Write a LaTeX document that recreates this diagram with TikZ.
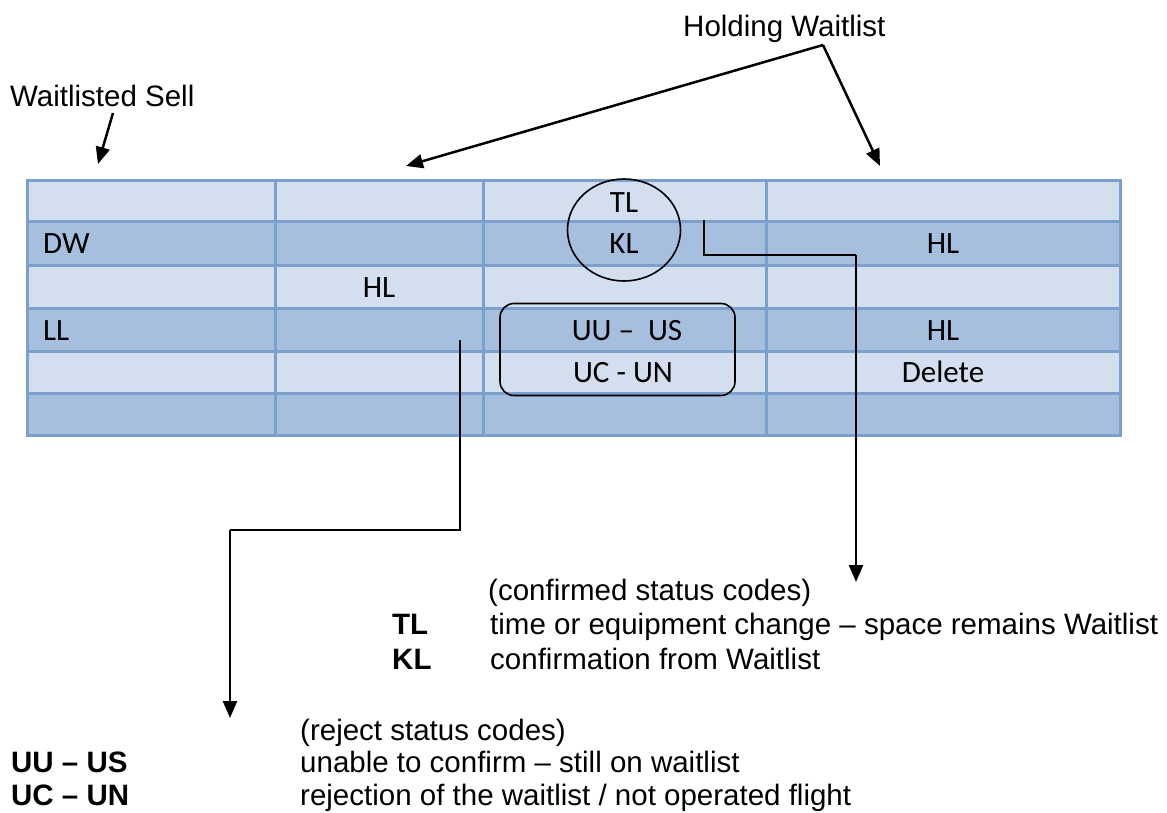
\documentclass[tikz,border=0pt]{standalone}
\usepackage{fontspec}
\setmainfont{Liberation Sans}
\newfontfamily\calfont[Ligatures=TeX]{Carlito}
\usetikzlibrary{arrows.meta,shapes.geometric}
\definecolor{lightrow}{RGB}{211,223,238}
\definecolor{darkrow}{RGB}{167,191,222}
\definecolor{gridline}{RGB}{123,160,205}
\tikzset{
  celltext/.style={font=\calfont\fontsize{31}{37}\selectfont, inner sep=0pt, anchor=base},
  celltextw/.style={celltext, anchor=base west},
  legend/.style={font=\fontsize{29.5}{35}\selectfont, inner sep=0pt, anchor=base west},
  legendb/.style={legend, font=\fontsize{29.5}{35}\selectfont\bfseries},
  conn/.style={draw=black, line width=2.5pt, -{Triangle[length=17pt,width=14pt]}},
  wire/.style={draw=black, line width=2.5pt},
  frame/.style={draw=black, line width=1.6pt, fill=none}
}
\begin{document}
\begin{tikzpicture}[x=1pt,y=-1pt]
\useasboundingbox (0,0) rectangle (1167,813);
% table rows
\foreach \t/\b/\c in {181/222/lightrow,222/265/darkrow,265/308/lightrow,308/351/darkrow,351/393/lightrow,393/435/darkrow}
  \fill[\c] (27,\t) rectangle (1120,\b);
% grid
\begin{scope}[draw=gridline, line width=3pt]
  \draw (27,181) rectangle (1120,435);
  \foreach \y in {222,265,308,351,393} \draw (27,\y) -- (1120,\y);
  \foreach \x in {275,483,766} \draw (\x,181) -- (\x,435);
\end{scope}
% cell texts
\node[celltextw] (dw) at (43,254) {DW};
\node[celltextw] (ll) at (43,340) {LL};
\node[celltext] (hl1) at (379,297) {HL};
\node[celltext] (tl) at (624,212) {TL};
\node[celltext] (kl) at (624,254) {KL};
\node[celltext] (uu) at (627,340) {UU –\ \ US};
\node[celltext] (uc) at (623,382.5) {UC - UN};
\node[celltext] (hl2) at (943,254) {HL};
\node[celltext] (hl3) at (943,340) {HL};
\node[celltext] (del) at (943,382.5) {Delete};
% circle and rounded box
\node[frame, ellipse, minimum width=113pt, minimum height=102pt, inner sep=0pt] (circ) at (624,230) {};
\node[frame, rectangle, rounded corners=14pt, minimum width=235pt, minimum height=92pt, inner sep=0pt] (box) at (617.5,349.5) {};
% top labels
\node[legend] (ws) at (10,107) {Waitlisted Sell};
\node[legend] (hw) at (683,37) {Holding Waitlist};
\coordinate (wsA) at (113,113);
\coordinate (wsB) at (98,164);
\coordinate (hwA) at (823,45);
\coordinate (hwL) at (406,166);
\coordinate (hwR) at (880,166);
\draw[conn] (wsA) -- (wsB);
\draw[conn] (hwA) -- (hwL);
\draw[conn] (hwA) -- (hwR);
% connectors
\coordinate (c1s) at (704,220);
\coordinate (c1k) at (856,255);
\coordinate (c1e) at (856,582);
\draw[wire] (c1s) |- (c1k);
\draw[conn] (c1k) -- (c1e);
\coordinate (c2s) at (460,340);
\coordinate (c2k) at (230,530);
\coordinate (c2e) at (230,718);
\draw[wire] (c2s) |- (c2k);
\draw[conn] (c2k) -- (c2e);
% legend: confirmed
\node[legend] (conf) at (488,600) {(confirmed status codes)};
\node[legendb] (tlk) at (392,634) {TL};
\node[legend] (tld) at (490,634) {time or equipment change – space remains Waitlist};
\node[legendb] (klk) at (392,669) {KL};
\node[legend] (kld) at (490,669) {confirmation from Waitlist};
% legend: reject
\node[legend] (rej) at (300,740) {(reject status codes)};
\node[legendb] (uuk) at (11,772) {UU – US};
\node[legend] (uud) at (300,772) {unable to confirm – still on waitlist};
\node[legendb] (uck) at (11,805) {UC – UN};
\node[legend] (ucd) at (300,805) {rejection of the waitlist / not operated flight};
\end{tikzpicture}
\end{document}
